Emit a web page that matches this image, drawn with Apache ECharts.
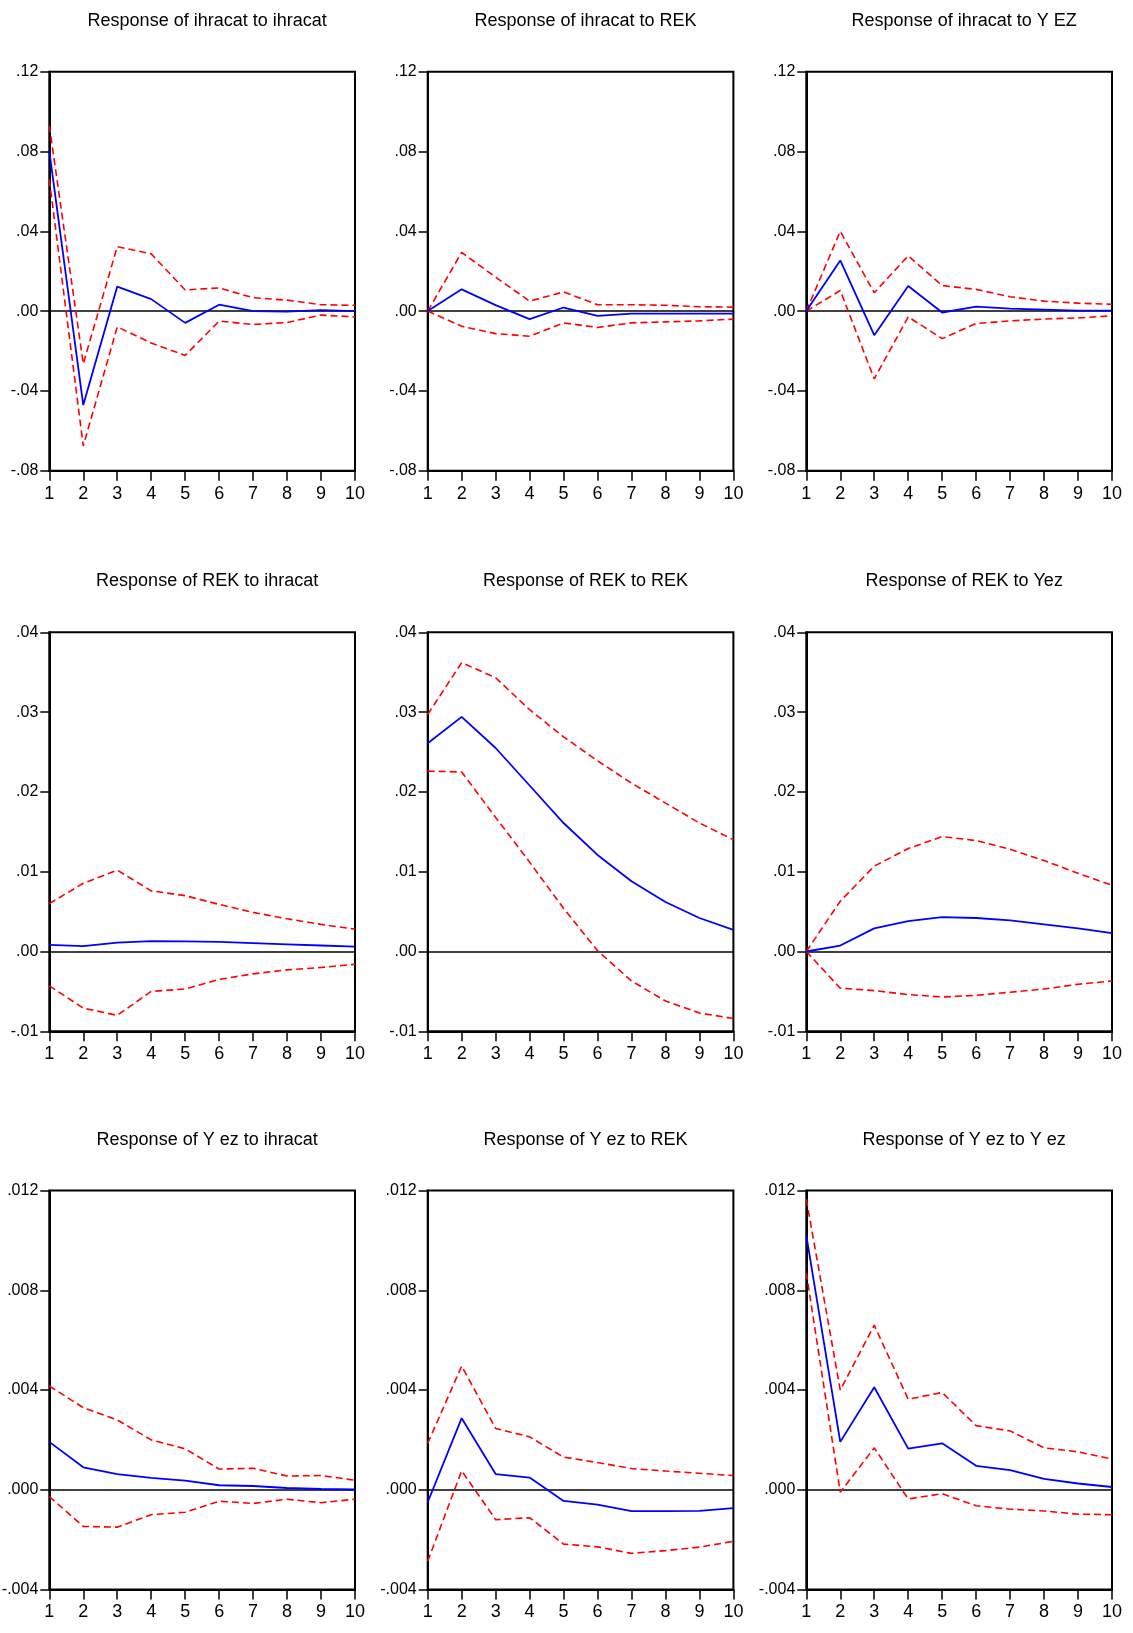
<!DOCTYPE html>
<html>
<head>
<meta charset="utf-8">
<script src="https://cdn.jsdelivr.net/npm/echarts@6/dist/echarts.min.js"></script>
<style>
html,body{margin:0;padding:0;background:#fff;}
#chart{width:1133px;height:1633px;}
</style>
</head>
<body>
<div id="chart"></div>
<script>
// ---------- data ----------
const periods = [1, 2, 3, 4, 5, 6, 7, 8, 9, 10];
const xTickLabels = ['1', '2', '3', '4', '5', '6', '7', '8', '9', '10'];

const titles = [
  'Response of ihracat to ihracat', 'Response of ihracat to REK', 'Response of ihracat to Y EZ',
  'Response of REK to ihracat', 'Response of REK to REK', 'Response of REK to Yez',
  'Response of Y ez to ihracat', 'Response of Y ez to REK', 'Response of Y ez to Y ez'
];

const yTickLabelsRow1 = ['-.08', '-.04', '.00', '.04', '.08', '.12'];
const yTickLabelsRow2 = ['-.01', '.00', '.01', '.02', '.03', '.04'];
const yTickLabelsRow3 = ['-.004', '.000', '.004', '.008', '.012'];

// ihracat to ihracat
const irf11 = [0.0803, -0.0471, 0.0123, 0.0060, -0.0059, 0.0032, 0.0000, -0.0003, 0.0005, 0.0000];
const up11  = [0.0930, -0.0264, 0.0323, 0.0287, 0.0106, 0.0116, 0.0067, 0.0055, 0.0032, 0.0029];
const lo11  = [0.0660, -0.0676, -0.0079, -0.0160, -0.0222, -0.0050, -0.0067, -0.0057, -0.0020, -0.0029];
// ihracat to REK
const irf12 = [0.0000, 0.0109, 0.0030, -0.0040, 0.0018, -0.0024, -0.0013, -0.0013, -0.0013, -0.0013];
const up12  = [0.0000, 0.0294, 0.0170, 0.0050, 0.0096, 0.0032, 0.0032, 0.0029, 0.0022, 0.0020];
const lo12  = [0.0000, -0.0076, -0.0113, -0.0126, -0.0059, -0.0082, -0.0059, -0.0054, -0.0049, -0.0040];
// ihracat to Y EZ
const irf13 = [0.0000, 0.0254, -0.0121, 0.0126, -0.0007, 0.0022, 0.0012, 0.0007, 0.0002, 0.0002];
const up13  = [0.0000, 0.0400, 0.0092, 0.0277, 0.0128, 0.0109, 0.0072, 0.0050, 0.0040, 0.0034];
const lo13  = [0.0000, 0.0103, -0.0340, -0.0029, -0.0138, -0.0062, -0.0049, -0.0040, -0.0034, -0.0024];
// REK to ihracat
const irf21 = [0.00084, 0.00067, 0.0011, 0.0013, 0.00126, 0.0012, 0.00105, 0.0009, 0.00075, 0.0006];
const up21  = [0.0060, 0.00855, 0.0102, 0.0076, 0.0070, 0.0059, 0.0049, 0.0041, 0.0034, 0.0028];
const lo21  = [-0.0043, -0.0071, -0.0080, -0.0050, -0.0047, -0.0035, -0.0028, -0.0023, -0.0020, -0.0016];
// REK to REK
const irf22 = [0.0261, 0.0294, 0.0255, 0.0208, 0.0161, 0.0121, 0.0088, 0.0062, 0.0042, 0.0027];
const up22  = [0.0297, 0.0362, 0.0343, 0.0303, 0.0269, 0.0239, 0.0211, 0.0186, 0.0161, 0.0140];
const lo22  = [0.0226, 0.0225, 0.0168, 0.0112, 0.0054, 0.0001, -0.0037, -0.0062, -0.0077, -0.0084];
// REK to Yez
const irf23 = [0.0000, 0.00075, 0.0029, 0.0038, 0.0043, 0.0042, 0.0039, 0.0034, 0.0029, 0.0023];
const up23  = [0.0000, 0.0063, 0.0107, 0.0129, 0.0144, 0.0139, 0.0128, 0.0114, 0.0098, 0.0083];
const lo23  = [0.0000, -0.0046, -0.0049, -0.0054, -0.0057, -0.0055, -0.0051, -0.0047, -0.0041, -0.0037];
// Y ez to ihracat
const irf31 = [0.00192, 0.0009, 0.00063, 0.00048, 0.00037, 0.00018, 0.00015, 0.00007, 0.00003, 0.00001];
const up31  = [0.00416, 0.00329, 0.0028, 0.0020, 0.00164, 0.00083, 0.00086, 0.00055, 0.00057, 0.00038];
const lo31  = [-0.00027, -0.00147, -0.0015, -0.0010, -0.0009, -0.00046, -0.00055, -0.00038, -0.00052, -0.00038];
// Y ez to REK
const irf32 = [-0.0005, 0.00287, 0.00063, 0.00049, -0.00045, -0.0006, -0.00086, -0.00086, -0.00085, -0.00074];
const up32  = [0.00186, 0.00496, 0.00246, 0.00212, 0.00131, 0.00109, 0.00085, 0.00075, 0.00066, 0.00057];
const lo32  = [-0.00287, 0.00076, -0.0012, -0.00112, -0.00218, -0.00229, -0.00255, -0.00244, -0.0023, -0.00207];
// Y ez to Y ez
const irf33 = [0.0102, 0.00192, 0.00411, 0.00165, 0.00186, 0.00096, 0.00079, 0.00044, 0.00025, 0.00011];
const up33  = [0.01165, 0.0040, 0.0066, 0.00363, 0.0039, 0.00257, 0.00236, 0.00168, 0.00152, 0.00123];
const lo33  = [0.0087, -0.0001, 0.00168, -0.00037, -0.00016, -0.00064, -0.00078, -0.00085, -0.00098, -0.0010];

const panels = [
  [irf11, up11, lo11], [irf12, up12, lo12], [irf13, up13, lo13],
  [irf21, up21, lo21], [irf22, up22, lo22], [irf23, up23, lo23],
  [irf31, up31, lo31], [irf32, up32, lo32], [irf33, up33, lo33]
];

// ---------- layout / styles ----------
const colLeft = [49.3, 427.7, 806.3];
const plotW = 305.7;
const rowTop = [71.7, 632.3, 1190.5];
const plotH = 399;
const titleTop = [7, 567, 1126];
const rowAxis = [
  {min: -0.08, max: 0.12, interval: 0.04, labels: yTickLabelsRow1},
  {min: -0.01, max: 0.04, interval: 0.01, labels: yTickLabelsRow2},
  {min: -0.004, max: 0.012, interval: 0.004, labels: yTickLabelsRow3}
];
const FONT = "'Liberation Sans', Arial, sans-serif";

const pair = arr => arr.map((v, i) => [periods[i], v]);

const grids = [], xAxes = [], yAxes = [], series = [], titleOpts = [];
for (let p = 0; p < 9; p++) {
  const r = Math.floor(p / 3), c = p % 3;
  const ax = rowAxis[r];
  grids.push({
    left: colLeft[c], top: rowTop[r], width: plotW, height: plotH,
    show: true, borderColor: '#000', borderWidth: 2, backgroundColor: 'transparent',
    containLabel: false, outerBoundsMode: 'none'
  });
  titleOpts.push({
    text: titles[p], left: colLeft[c] + plotW / 2, top: titleTop[r], textAlign: 'center',
    textStyle: {fontFamily: FONT, fontSize: 18, fontWeight: 'normal', color: '#000'}
  });
  xAxes.push({
    type: 'value', gridIndex: p, min: 1, max: 10, interval: 1,
    axisLine: {show: true, onZero: false, lineStyle: {color: '#000', width: 2}},
    axisTick: {show: true, length: 10, lineStyle: {color: '#000', width: 1.5}},
    splitLine: {show: false},
    axisLabel: {
      margin: 14, color: '#000', fontFamily: FONT, fontSize: 18,
      formatter: v => xTickLabels[Math.round(v) - 1]
    }
  });
  yAxes.push({
    type: 'value', gridIndex: p, min: ax.min, max: ax.max, interval: ax.interval,
    axisLine: {show: true, onZero: false, lineStyle: {color: '#000', width: 2}},
    axisTick: {show: true, length: 9, lineStyle: {color: '#000', width: 1.5}},
    splitLine: {show: false},
    axisLabel: {
      margin: 11, color: '#000', fontFamily: FONT, fontSize: 16,
      formatter: v => ax.labels[Math.round((v - ax.min) / ax.interval)]
    }
  });
  const [irf, up, lo] = panels[p];
  const dashed = {color: '#ff0000', width: 1.6, type: [7, 4]};
  series.push({
    type: 'line', xAxisIndex: p, yAxisIndex: p, data: pair(up), symbol: 'none',
    lineStyle: dashed, silent: true, animation: false, z: 3
  });
  series.push({
    type: 'line', xAxisIndex: p, yAxisIndex: p, data: pair(lo), symbol: 'none',
    lineStyle: dashed, silent: true, animation: false, z: 3
  });
  series.push({
    type: 'line', xAxisIndex: p, yAxisIndex: p, data: pair(irf), symbol: 'none',
    lineStyle: {color: '#0000ff', width: 1.8}, silent: true, animation: false, z: 4,
    markLine: {
      silent: true, symbol: 'none', animation: false, label: {show: false},
      lineStyle: {color: '#000', width: 1.6, type: 'solid'}, z: 2,
      data: [{yAxis: 0}]
    }
  });
}

const chart = echarts.init(document.getElementById('chart'), null, {renderer: 'canvas'});
chart.setOption({
  animation: false,
  backgroundColor: '#fff',
  title: titleOpts,
  grid: grids,
  xAxis: xAxes,
  yAxis: yAxes,
  series: series
});
</script>
</body>
</html>
